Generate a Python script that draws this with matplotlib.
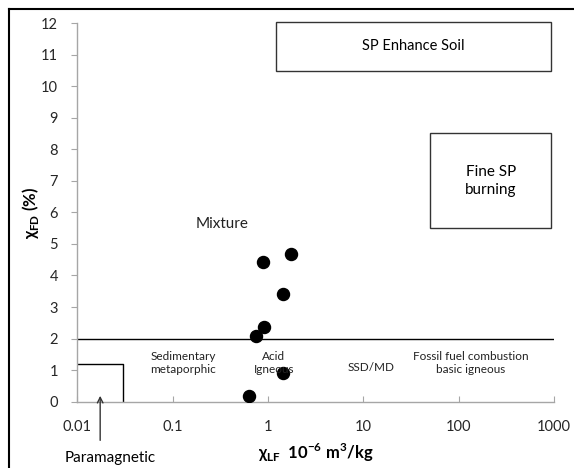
import matplotlib
matplotlib.use("Agg")
import matplotlib.pyplot as plt
import matplotlib.patches as mpatches
from matplotlib.lines import Line2D

plt.rcParams['font.family'] = ['Lato', 'DejaVu Sans']
plt.rcParams['mathtext.fontset'] = 'custom'
plt.rcParams['mathtext.rm'] = 'Lato'
plt.rcParams['mathtext.bf'] = 'Lato:bold'

# measured samples
chi_lf = [0.875, 1.73, 1.42, 0.90, 0.745, 1.45, 0.634]
chi_fd = [4.42, 4.68, 3.42, 2.37, 2.08, 0.91, 0.18]

x_ticks = [0.01, 0.1, 1, 10, 100, 1000]
x_tick_labels = ['0.01', '0.1', '1', '10', '100', '1000']
y_ticks = list(range(0, 13))

# zone labels (text, x, y, fontsize)
zone_labels = [
    ('Sedimentary\nmetaporphic', 0.128, 1.22, 8.5),
    ('Acid\nIgneous', 1.15, 1.22, 8.5),
    ('SSD/MD', 12, 1.07, 8.5),
    ('Fossil fuel combustion\nbasic igneous', 135, 1.22, 8.5),
    ('Mixture', 0.33, 5.63, 11),
]

fig = plt.figure(figsize=(5.74, 4.68), dpi=100)
ax = fig.add_axes([0.135, 0.142, 0.83, 0.808])

ax.scatter(chi_lf, chi_fd, s=75, color='black', zorder=3)

ax.set_xscale('log')
ax.set_xlim(0.01, 1000)
ax.set_ylim(0, 12)
ax.set_xticks(x_ticks)
ax.set_xticklabels(x_tick_labels)
ax.set_yticks(y_ticks)
ax.minorticks_off()

for s in ['top', 'right']:
    ax.spines[s].set_visible(False)
for s in ['left', 'bottom']:
    ax.spines[s].set_color('#a6a6a6')
    ax.spines[s].set_linewidth(1.0)
ax.tick_params(axis='x', direction='in', length=4, color='#a6a6a6', labelsize=10.5, pad=13, labelcolor='#262626')
ax.tick_params(axis='y', direction='out', length=4, color='#a6a6a6', labelsize=10.5, pad=10, labelcolor='#262626')

# threshold line and boxes
ax.plot([0.01, 1000], [2, 2], color='black', lw=1.0)
ax.plot([0.01, 0.0303, 0.0303], [1.18, 1.18, 0], color='black', lw=1.0)

ax.add_patch(mpatches.Rectangle((1.2, 10.5), 942 - 1.2, 1.53, fill=False,
                                edgecolor='#333333', lw=1.0, clip_on=False))
ax.text((1.2 * 942) ** 0.5, 11.27, 'SP Enhance Soil', ha='center', va='center', fontsize=10.5)
ax.add_patch(mpatches.Rectangle((50, 5.52), 942 - 50, 2.99, fill=False,
                                edgecolor='#333333', lw=1.0))
ax.text((50 * 942) ** 0.5, 7.0, 'Fine SP\nburning', ha='center', va='center', fontsize=11,
        linespacing=1.3)

for txt, x, y, fs in zone_labels:
    ax.text(x, y, txt, ha='center', va='center', fontsize=fs, color='#222222', linespacing=1.3)

# paramagnetic arrow
ax.annotate('', xy=(0.0173, 0.27), xytext=(0.0173, -1.32),
            arrowprops=dict(arrowstyle='->', color='#333333', lw=1.0),
            annotation_clip=False)
ax.text(0.022, -1.78, 'Paramagnetic', ha='center', va='center', fontsize=11, clip_on=False)

ax.set_ylabel(r'χ$_{\mathbf{FD}}$ (%)', fontsize=12, fontweight='bold')
ax.set_xlabel(r'χ$_{\mathbf{LF}}$  10$^{\mathbf{-6}}$ m$^{\mathbf{3}}$/kg', fontsize=12,
              fontweight='bold')
ax.yaxis.set_label_coords(-0.077, 0.5)
ax.xaxis.set_label_coords(0.5, -0.105)

# screenshot frame (top and left)
fig.add_artist(Line2D([0.0155, 1.0], [0.98, 0.98], color='black', lw=1.5))
fig.add_artist(Line2D([0.0155, 0.0155], [0.0, 0.98], color='black', lw=1.5))

fig.savefig('out.png', dpi=100)
